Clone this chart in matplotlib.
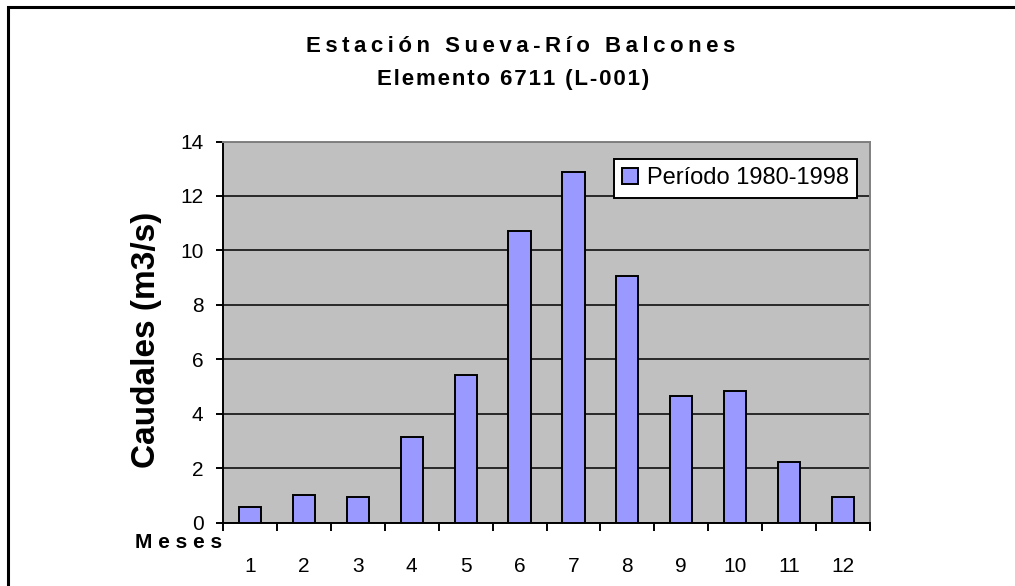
import matplotlib.pyplot as plt
from matplotlib.patches import Rectangle
import numpy as np

plt.rcParams['font.family'] = ['Liberation Sans', 'DejaVu Sans']

# Caudales medios mensuales (m3/s), periodo 1980-1998
meses = np.arange(1, 13)
etiquetas = [str(m) for m in meses]
caudales = [0.58, 1.02, 0.95, 3.14, 5.42, 10.73, 12.87, 9.07, 4.64, 4.85, 2.22, 0.95]
serie = "Período 1980-1998"
titulo1 = "Estación Sueva-Río Balcones"
titulo2 = "Elemento 6711 (L-001)"


def espaciado(texto, sep):
    # imita el espaciado entre letras del original
    return sep.join(texto)


fig = plt.figure(figsize=(10.15, 5.86), dpi=100)
ax = fig.add_axes([223/1015, 1 - 522.7/586, (870-223)/1015, (522.7-141.5)/586])

ax.set_facecolor('#C0C0C0')
ax.bar(meses, caudales, width=0.41, color='#9999FF', edgecolor='black',
       linewidth=1.4, label=serie, zorder=3)

ax.set_xlim(0.5, 12.5)
ax.set_ylim(0, 14)
ax.set_yticks(np.arange(0, 15, 2))
ax.grid(axis='y', color='black', linewidth=1.1, zorder=1)

ax.set_xticks(meses)
ax.set_xticklabels(etiquetas)
ax.set_xticks(np.arange(0.5, 13, 1), minor=True)
ax.tick_params(axis='x', which='major', length=0, pad=25, labelsize=15)
ax.tick_params(axis='x', which='minor', length=6, width=1.4, direction='out')
ax.tick_params(axis='y', length=5, width=1.4, pad=9, labelsize=15)

for s in ['top', 'right']:
    ax.spines[s].set_color('#808080')
    ax.spines[s].set_linewidth(1.4)
for s in ['left', 'bottom']:
    ax.spines[s].set_color('black')
    ax.spines[s].set_linewidth(1.4)

ax.set_ylabel("Caudales (m3/s)", fontsize=24, fontweight='bold',
              fontstyle='normal')
ax.yaxis.set_label_coords(-0.094, 0.48)

fig.text(521/1015, 1 - 47/586, espaciado(titulo1, '\u2009'),
         ha='center', va='center', fontsize=16, fontweight='bold')
fig.text(513/1015, 1 - 80/586, espaciado(titulo2, '\u200a'),
         ha='center', va='center', fontsize=16, fontweight='bold')
fig.text(222/1015, 1 - 542/586, espaciado("Meses", ' '), ha='right',
         va='center', fontsize=15, fontweight='bold')

leg = ax.legend(loc='upper right', bbox_to_anchor=(857/1015, 1 - 159/586),
                bbox_transform=fig.transFigure, fontsize=17, fancybox=False,
                framealpha=1, edgecolor='black', handlelength=0.7,
                handleheight=0.7, handletextpad=0.35, borderpad=0.35,
                borderaxespad=0)
leg.get_frame().set_linewidth(1.4)

# marco exterior del grafico
fig.add_artist(Rectangle((8/1015, -0.1), 1.2, (1 - 7/586) + 0.1,
                         transform=fig.transFigure, fill=False,
                         edgecolor='black', linewidth=2.2))

fig.savefig("out.png", dpi=100)
